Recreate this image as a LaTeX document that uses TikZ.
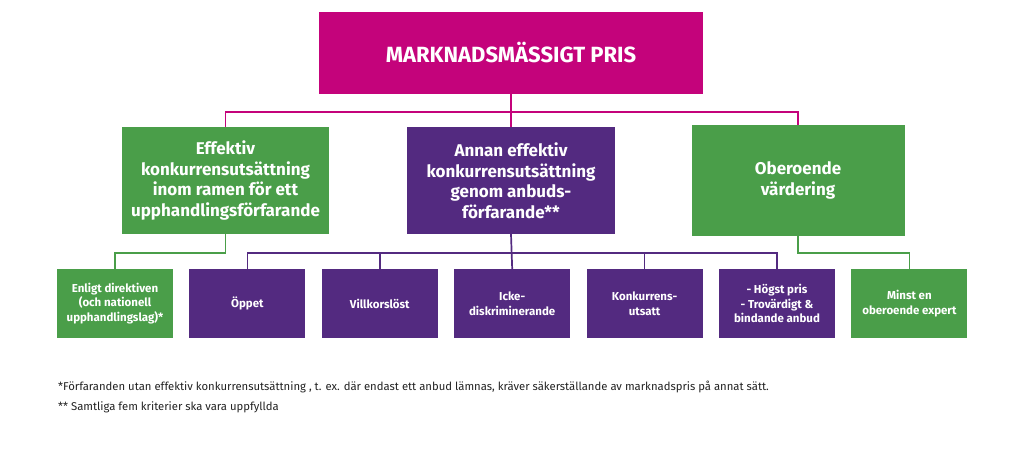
\documentclass[tikz,border=0pt]{standalone}
\usepackage{fontspec}
\setmainfont{Fira Sans}
\usepackage{tikz}
\usetikzlibrary{positioning}
\definecolor{rosa}{HTML}{C4037B}
\definecolor{gron}{HTML}{4A9E49}
\definecolor{lila}{HTML}{532A80}
\definecolor{fottext}{HTML}{222222}

\begin{document}
\begin{tikzpicture}[x=1pt,y=-1pt,
  huvud/.style={fill=rosa,text=white,minimum width=384pt,minimum height=82pt,
                font=\bfseries\fontsize{22}{26}\selectfont},
  mellan/.style={text=white,align=center,minimum height=107pt,inner sep=2pt,
                 font=\bfseries\fontsize{17}{20.5}\selectfont},
  ruta/.style={text=white,align=center,minimum width=116pt,minimum height=69pt,
               inner sep=2pt,font=\bfseries\fontsize{11.5}{14.5}\selectfont},
  linje/.style={line width=1.7pt}]
  \useasboundingbox (0,0) rectangle (1023,463);
  \node[huvud] (pris) at (511,53) {MARKNADSMÄSSIGT PRIS};
  \node[mellan,fill=gron,minimum width=207pt] (eff) at (225.5,180.5)
       {Effektiv\\konkurrensutsättning\\inom ramen för ett\\upphandlingsförfarande};
  \node[mellan,fill=lila,minimum width=208pt] (annan) at (511,180.5)
       {Annan effektiv\\konkurrensutsättning\\genom anbuds-\\förfarande**};
  \node[mellan,fill=gron,minimum width=213pt,minimum height=111pt] (ober) at (798,180.5)
       {Oberoende\\värdering};
  \node[ruta,fill=gron] (enligt) at (115,303.5)
       {Enligt direktiven\\(och nationell\\upphandlingslag)*};
  \node[ruta,fill=lila,right=16pt of enligt] (oppet) {Öppet};
  \node[ruta,fill=lila,right=16pt of oppet] (vill) {Villkorslöst};
  \node[ruta,fill=lila,right=16pt of vill] (icke) {Icke-\\diskriminerande};
  \node[ruta,fill=lila,right=16pt of icke] (konk) {Konkurrens-\\utsatt};
  \node[ruta,fill=lila,right=16pt of konk] (hogst)
       {- Högst pris\\- Trovärdigt \&\\bindande anbud};
  \node[ruta,fill=gron,right=16pt of hogst] (minst) {Minst en\\oberoende expert};
  \coordinate (rosabus) at (0,112);
  \coordinate (lilabus) at (0,253);
  % anslutningar
  \draw[linje,rosa] (pris.south) -- (annan.north);
  \draw[linje,rosa] (eff.north) |- (ober.north |- rosabus) -- (ober.north);
  \draw[linje,lila] (annan.south) -- (icke.north);
  \draw[linje,lila] (oppet.north) |- (hogst.north |- lilabus) -- (hogst.north);
  \foreach \n in {vill,konk}
    \draw[linje,lila] (\n.north) -- (\n.north |- lilabus);
  \draw[linje,gron] (eff.south) -- (eff.south |- lilabus) -| (enligt.north);
  \draw[linje,gron] (ober.south) -- (ober.south |- lilabus) -| (minst.north);
  % fotnoter
  \node[anchor=west,inner sep=0pt,text=fottext,font=\fontsize{11.3}{13}\selectfont] (not1) at (58,387)
       {*Förfaranden utan effektiv konkurrensutsättning , t. ex. där endast ett anbud lämnas, kräver säkerställande av marknadspris på annat sätt.};
  \node[anchor=west,inner sep=0pt,text=fottext,font=\fontsize{11.3}{13}\selectfont] (not2) at (58,407)
       {** Samtliga fem kriterier ska vara uppfyllda};
\end{tikzpicture}
\end{document}
